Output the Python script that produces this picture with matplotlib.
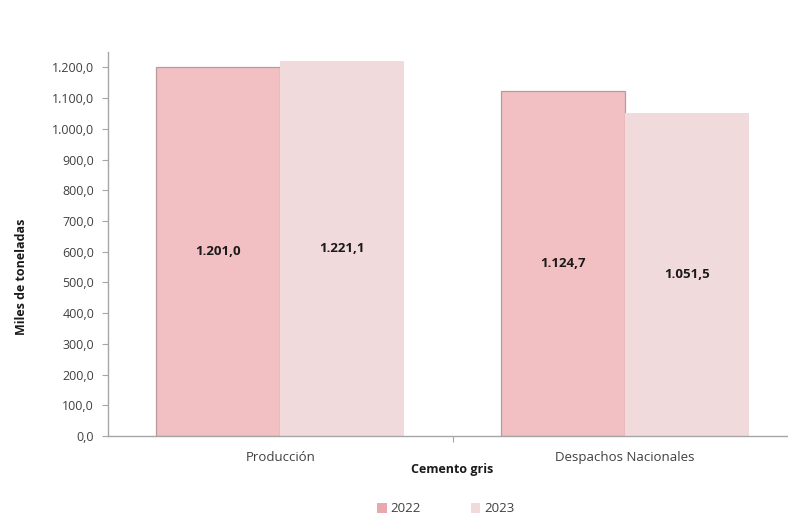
import matplotlib
matplotlib.use("Agg")
import matplotlib.pyplot as plt
from matplotlib.patches import Patch
import numpy as np

categories = ["Producción", "Despachos Nacionales"]
years = ["2022", "2023"]
values_2022 = [1201.0, 1124.7]
values_2023 = [1221.1, 1051.5]
y_ticks = [0, 100, 200, 300, 400, 500, 600, 700, 800, 900, 1000, 1100, 1200]

plt.rcParams["font.family"] = ["Open Sans", "DejaVu Sans"]

color_2022 = "#F2C0C3"
color_2023 = "#F1DADC"
edge_2022 = "#B89A9C"
axis_gray = "#A6A6A6"
text_gray = "#404040"


def fmt_es(v, decimals=1):
    s = f"{v:,.{decimals}f}"
    return s.replace(",", "X").replace(".", ",").replace("X", ".")


fig = plt.figure(figsize=(7.88, 5.16), dpi=100)
ax = fig.add_axes([0.137, 0.155, 0.875, 0.744])

x = np.arange(len(categories))
w = 0.36
b1 = ax.bar(x - w / 2, values_2022, width=w, color=color_2022,
            edgecolor=edge_2022, linewidth=0.9, label=years[0])
b2 = ax.bar(x + w / 2, values_2023, width=w, color=color_2023,
            edgecolor="none", label=years[1])

for bars, vals in ((b1, values_2022), (b2, values_2023)):
    for rect, v in zip(bars, vals):
        ax.text(rect.get_x() + rect.get_width() / 2, v / 2, fmt_es(v),
                ha="center", va="center", fontsize=9.5, fontweight="bold",
                color="#1a1a1a")

ax.set_xlim(-0.5, 1.5)
ax.set_ylim(0, 1250)
ax.set_yticks(y_ticks)
ax.set_yticklabels([fmt_es(t) for t in y_ticks], fontsize=9, color=text_gray)

# category labels centred under each group, tick mark on the group boundary
ax.set_xticks([0.5])
ax.set_xticklabels([""])
ax.tick_params(axis="x", length=4, color=axis_gray)
ax.tick_params(axis="y", length=4, color=axis_gray, pad=6)
for xi, cat in zip(x, categories):
    ax.text(xi, -70, cat, ha="center", va="center", fontsize=9.5,
            color=text_gray)

for side in ("top", "right"):
    ax.spines[side].set_visible(False)
for side in ("left", "bottom"):
    ax.spines[side].set_color(axis_gray)
    ax.spines[side].set_linewidth(1.0)

ax.set_ylabel("Miles de toneladas", fontsize=9, fontweight="bold",
              color="#1a1a1a")
ax.yaxis.set_label_coords(-0.116, 0.414)
fig.text(452 / 788, 1 - 470 / 516, "Cemento gris", ha="center", va="center",
         fontsize=9, fontweight="bold", color="#1a1a1a")

handles = [Patch(facecolor="#E8A9AE", edgecolor="none", label=years[0]),
           Patch(facecolor=color_2023, edgecolor="none", label=years[1])]
fig.legend(handles=handles, loc="center", bbox_to_anchor=(446 / 788, 1 - 509 / 516),
           ncol=2, frameon=False, fontsize=9.5, handlelength=0.7,
           handleheight=0.7, handletextpad=0.3, columnspacing=3.8,
           labelcolor=text_gray)

fig.savefig("out.png", dpi=100)
